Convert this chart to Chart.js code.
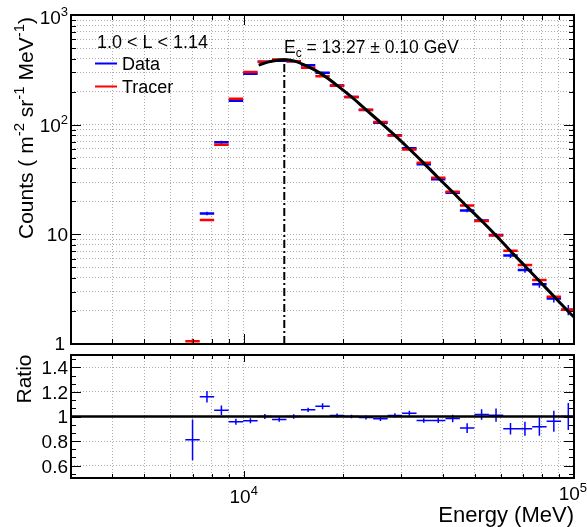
<!DOCTYPE html>
<html>
<head>
<meta charset="utf-8">
<script src="https://cdn.jsdelivr.net/npm/chart.js@4.4.1/dist/chart.umd.min.js"></script>
<style>
  html, body { margin: 0; padding: 0; background: #fff; }
  #wrap { position: relative; width: 587px; height: 527px; overflow: hidden; }
  canvas { position: absolute; left: 0; }
  #topChart { top: 0; }
  #ratioChart { top: 350px; }
</style>
</head>
<body>
<div id="wrap">
  <canvas id="topChart" width="587" height="350"></canvas>
  <canvas id="ratioChart" width="587" height="177"></canvas>
</div>
<script>
/* ── Data ── */
const energy = [7000, 7740, 8560, 9470, 10480, 11590, 12810, 14170, 15670, 17330, 19170, 21200, 23450,
                25940, 28690, 31730, 35090, 38810, 42920, 47470, 52510, 58070, 64230, 71040, 78560, 86890, 96100];

const tracerFlux = [1.06, 13.5, 65.5, 172, 302, 375, 392, 379, 330, 276, 226, 179, 137,
                    106, 79.5, 59.5, 45, 32.8, 24.4, 18.3, 13.2, 9.75, 7.1, 5.26, 3.84, 2.7, 2.05];
const tracerErr  = [0.06, 0.25, 0.6, 1, 1.5, 1.8, 1.8, 1.8, 1.6, 1.4, 1.1, 0.9, 0.7,
                    0.55, 0.42, 0.33, 0.26, 0.2, 0.16, 0.13, 0.1, 0.08, 0.06, 0.05, 0.04, 0.03, 0.03];

const dataFlux = [0.86, 15.5, 69, 165, 291, 375, 383, 379, 349, 297, 228, 179, 136,
                  104, 80, 61, 43.6, 31.8, 24, 16.5, 13.4, 9.85, 6.4, 4.74, 3.5, 2.6, 2.05];
const dataErr  = [0.12, 0.6, 2.5, 4, 5, 6, 6, 6, 5.5, 6, 3.5, 2.7, 2.2,
                  1.8, 1.4, 1.2, 0.8, 0.6, 0.6, 0.6, 0.5, 0.45, 0.3, 0.28, 0.24, 0.21, 0.22];

const ratio    = [0.81, 1.16, 1.05, 0.957, 0.965, 1.0, 0.976, 1.0, 1.054, 1.083, 1.008, 1.0, 0.992,
                  0.981, 1.008, 1.027, 0.968, 0.968, 0.984, 0.906, 1.016, 1.011, 0.90, 0.90, 0.917, 0.962, 1.0];
const ratioErr = [0.165, 0.047, 0.04, 0.025, 0.02, 0.02, 0.018, 0.018, 0.018, 0.025, 0.016, 0.015, 0.016,
                  0.018, 0.018, 0.02, 0.018, 0.02, 0.03, 0.04, 0.043, 0.054, 0.047, 0.057, 0.074, 0.085, 0.11];

// fitted cutoff curve, sampled along the black line
const fitE    = [11100, 12000, 12810, 13270, 14170, 15670, 17330, 19170, 21200, 23450, 25940, 28690, 31730,
                 35090, 38810, 42920, 47470, 52510, 58070, 64230, 71040, 78560, 86890, 96100, 100000];
const fitFlux = [349, 376, 389, 391, 382, 338, 286, 228, 179, 137, 105, 79.8, 60,
                 44.6, 32.8, 24.3, 17.9, 13.3, 9.75, 7.05, 5.15, 3.75, 2.72, 1.98, 1.76];

const cutoffE = 13270;
const cutoffPeak = 391;

/* ── Axis ticks / grid ── */
const xMajor = [10000, 100000];
const xMinor = [4000, 5000, 6000, 7000, 8000, 9000, 20000, 30000, 40000, 50000, 60000, 70000, 80000, 90000];
const yMajor = [1, 10, 100, 1000];
const yMinor = [2, 3, 4, 5, 6, 7, 8, 9, 20, 30, 40, 50, 60, 70, 80, 90, 200, 300, 400, 500, 600, 700, 800, 900];
const rMajor = [0.6, 0.8, 1.0, 1.2, 1.4];
const rMinor = [0.5333, 0.6667, 0.7333, 0.8667, 0.9333, 1.0667, 1.1333, 1.2667, 1.3333, 1.4667];

const FONT = "'Liberation Sans', Arial, sans-serif";
const GRID = 'rgba(0,0,0,0.32)';
const BLUE = '#0000ff';
const RED  = '#ff0000';

/* ── Bin edges for the horizontal error bars ── */
const n = energy.length;
const binLo = energy.map((e, i) => i > 0 ? Math.sqrt(energy[i - 1] * e) : e * Math.sqrt(e / energy[1]));
const binHi = energy.map((e, i) => i < n - 1 ? Math.sqrt(e * energy[i + 1]) : e * Math.sqrt(e / energy[n - 2]));

function hSegs(ys) {
  const pts = [];
  energy.forEach((e, i) => pts.push({ x: binLo[i], y: ys[i] }, { x: binHi[i], y: ys[i] }, { x: e, y: null }));
  return pts;
}
function vSegs(ys, errs) {
  const pts = [];
  energy.forEach((e, i) => pts.push({ x: e, y: ys[i] - errs[i] }, { x: e, y: ys[i] + errs[i] }, { x: e, y: null }));
  return pts;
}

/* ── Text helpers (ROOT-like superscripts) ── */
function richWidth(ctx, parts, size) {
  let w = 0;
  parts.forEach(([t, k]) => {
    ctx.font = `${k === 'n' ? size : Math.round(size * 0.7)}px ${FONT}`;
    w += ctx.measureText(t).width;
  });
  return w;
}
function richText(ctx, parts, x, y, size, align) {
  const w = richWidth(ctx, parts, size);
  let cx = align === 'right' ? x - w : align === 'center' ? x - w / 2 : x;
  ctx.textAlign = 'left';
  ctx.textBaseline = 'alphabetic';
  parts.forEach(([t, k]) => {
    const s = k === 'n' ? size : Math.round(size * 0.7);
    ctx.font = `${s}px ${FONT}`;
    const dy = k === 'sup' ? -size * 0.42 : k === 'sub' ? size * 0.25 : 0;
    ctx.fillText(t, cx, y + dy);
    cx += ctx.measureText(t).width;
  });
}

function drawTicks(ctx, area, xs, ys, xMaj, xMin, yMaj, yMin, lens) {
  const { left, right, top, bottom } = area;
  ctx.save();
  ctx.strokeStyle = '#000';
  ctx.lineWidth = 1;
  ctx.beginPath();
  const yt = (vals, len) => vals.forEach(v => {
    const p = Math.round(ys.getPixelForValue(v)) + 0.5;
    ctx.moveTo(left, p); ctx.lineTo(left + len, p);
    ctx.moveTo(right, p); ctx.lineTo(right - len, p);
  });
  const xt = (vals, len) => vals.forEach(v => {
    const p = Math.round(xs.getPixelForValue(v)) + 0.5;
    ctx.moveTo(p, bottom); ctx.lineTo(p, bottom - len);
    ctx.moveTo(p, top); ctx.lineTo(p, top + len);
  });
  yt(yMaj, lens.yMaj); yt(yMin, lens.yMin);
  xt(xMaj, lens.xMaj); xt(xMin, lens.xMin);
  ctx.stroke();
  ctx.lineWidth = 2;
  ctx.strokeRect(left, top, right - left, bottom - top);
  ctx.restore();
}

/* ── Top panel decorations ── */
const topDecor = {
  id: 'topDecor',
  afterDraw(chart) {
    const ctx = chart.ctx, a = chart.chartArea, xs = chart.scales.x, ys = chart.scales.y;
    drawTicks(ctx, a, xs, ys, xMajor, xMinor, yMajor, yMinor, { yMaj: 10, yMin: 5, xMaj: 10, xMin: 5 });
    ctx.save();
    ctx.fillStyle = '#000';
    // y tick labels
    const sz = 19;
    richText(ctx, [['10', 'n'], ['3', 'sup']], 68, ys.getPixelForValue(1000) + 2 + sz * 0.36, sz, 'right');
    richText(ctx, [['10', 'n'], ['2', 'sup']], 68, ys.getPixelForValue(100) + sz * 0.36, sz, 'right');
    richText(ctx, [['10', 'n']], 68, ys.getPixelForValue(10) + sz * 0.36, sz, 'right');
    richText(ctx, [['1', 'n']], 65, ys.getPixelForValue(1) + sz * 0.32, sz, 'right');
    // y title
    ctx.save();
    ctx.translate(33, 128);
    ctx.rotate(-Math.PI / 2);
    richText(ctx, [['Counts ( m', 'n'], ['-2', 'sup'], [' sr', 'n'], ['-1', 'sup'], [' MeV', 'n'], ['-1', 'sup'], [')', 'n']], 0, 0, 21, 'center');
    ctx.restore();
    // legend
    richText(ctx, [['1.0 < L < 1.14', 'n']], 97, 48, 18, 'left');
    ctx.lineWidth = 2;
    ctx.strokeStyle = BLUE;
    ctx.beginPath(); ctx.moveTo(95, 63.5); ctx.lineTo(117, 63.5); ctx.stroke();
    ctx.strokeStyle = RED;
    ctx.beginPath(); ctx.moveTo(95, 86.5); ctx.lineTo(117, 86.5); ctx.stroke();
    richText(ctx, [['Data', 'n']], 122, 70, 18, 'left');
    richText(ctx, [['Tracer', 'n']], 122, 93, 18, 'left');
    // cutoff annotation
    richText(ctx, [['E', 'n'], ['c', 'sub'], [' = 13.27 \u00b1 0.10 GeV', 'n']], 284, 53, 17.5, 'left');
    ctx.restore();
  }
};

/* ── Ratio panel decorations ── */
const ratioDecor = {
  id: 'ratioDecor',
  afterDraw(chart) {
    const ctx = chart.ctx, a = chart.chartArea, xs = chart.scales.x, ys = chart.scales.y;
    drawTicks(ctx, a, xs, ys, xMajor, xMinor, rMajor, rMinor, { yMaj: 10, yMin: 5, xMaj: 7, xMin: 4 });
    ctx.save();
    ctx.fillStyle = '#000';
    const sz = 19;
    rMajor.forEach(v => {
      const t = v === 1 ? '1' : v.toFixed(1);
      richText(ctx, [[t, 'n']], 68, ys.getPixelForValue(v) + sz * 0.36, sz, 'right');
    });
    // x tick labels
    richText(ctx, [['10', 'n'], ['4', 'sup']], xs.getPixelForValue(10000), 153, 19, 'center');
    richText(ctx, [['10', 'n'], ['5', 'sup']], 587, 150, 19, 'right');
    // titles
    richText(ctx, [['Energy (MeV)', 'n']], 574, 171.5, 22, 'right');
    ctx.save();
    ctx.translate(31, 29);
    ctx.rotate(-Math.PI / 2);
    richText(ctx, [['Ratio', 'n']], 0, 0, 21, 'center');
    ctx.restore();
    ctx.restore();
  }
};

function hiddenAxis(type, min, max, gridVals, horizontal) {
  return {
    type, min, max,
    afterBuildTicks: s => { s.ticks = gridVals.map(v => ({ value: v })); },
    afterFit: s => { if (horizontal) s.height = 0; else s.width = 0; },
    ticks: { display: false },
    grid: { color: GRID, lineWidth: 1, drawTicks: false },
    border: { display: false, dash: [1, 2] },
  };
}

const common = {
  responsive: false,
  animation: false,
  events: [],
  devicePixelRatio: 1,
  plugins: { legend: { display: false }, tooltip: { enabled: false } },
  elements: { point: { radius: 0 }, line: { tension: 0, borderCapStyle: 'butt' } },
};

/* ── Top panel: spectra ── */
new Chart(document.getElementById('topChart'), {
  type: 'line',
  data: {
    datasets: [
      { label: 'Fit', data: fitE.map((x, i) => ({ x, y: fitFlux[i] })), borderColor: '#000', borderWidth: 3,
        cubicInterpolationMode: 'monotone', order: 0 },
      { label: 'Tracer', data: hSegs(tracerFlux), borderColor: RED, borderWidth: 2.5, order: 1 },
      { label: 'Tracer err', data: vSegs(tracerFlux, tracerErr), borderColor: RED, borderWidth: 1.5, order: 1 },
      { label: 'Data', data: hSegs(dataFlux), borderColor: BLUE, borderWidth: 2.5, order: 2 },
      { label: 'Data err', data: vSegs(dataFlux, dataErr), borderColor: BLUE, borderWidth: 1.5, order: 2 },
      { label: 'Ec', data: [{ x: cutoffE, y: 1 }, { x: cutoffE, y: cutoffPeak }], borderColor: '#000',
        borderWidth: 2, borderDash: [8, 3, 2, 3], order: 3 },
    ],
  },
  options: {
    ...common,
    layout: { padding: { left: 71, right: 13, top: 15, bottom: 6 } },
    scales: {
      x: hiddenAxis('logarithmic', 3000, 100000, [...xMinor, ...xMajor], true),
      y: hiddenAxis('logarithmic', 1, 1000, [...yMinor, ...yMajor], false),
    },
  },
  plugins: [topDecor],
});

/* ── Bottom panel: data / tracer ratio ── */
new Chart(document.getElementById('ratioChart'), {
  type: 'line',
  data: {
    datasets: [
      { label: 'One', data: [{ x: 3000, y: 1 }, { x: 100000, y: 1 }], borderColor: '#000', borderWidth: 2.5, order: 0 },
      { label: 'Ratio', data: hSegs(ratio), borderColor: BLUE, borderWidth: 1.5, order: 1 },
      { label: 'Ratio err', data: vSegs(ratio, ratioErr), borderColor: BLUE, borderWidth: 1.5, order: 1 },
    ],
  },
  options: {
    ...common,
    layout: { padding: { left: 71, right: 13, top: 5, bottom: 49 } },
    scales: {
      x: hiddenAxis('logarithmic', 3000, 100000, [...xMinor, ...xMajor], true),
      y: hiddenAxis('linear', 0.5, 1.5, rMajor, false),
    },
  },
  plugins: [ratioDecor],
});
</script>
</body>
</html>
